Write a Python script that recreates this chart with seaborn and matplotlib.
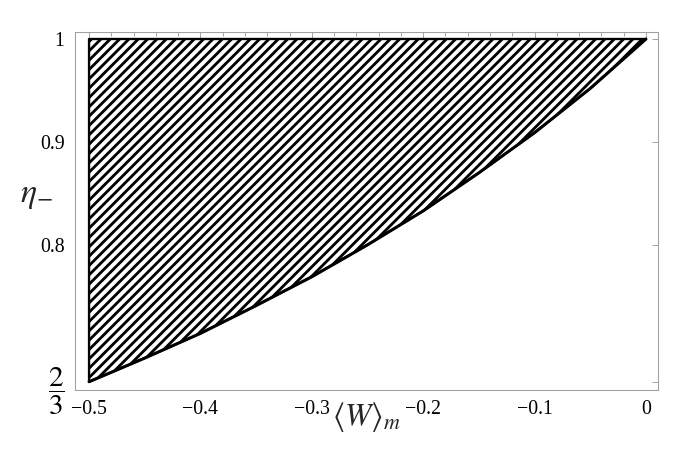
import numpy as np
import matplotlib
matplotlib.use('Agg')
import matplotlib.pyplot as plt
import seaborn as sns
from matplotlib.ticker import MultipleLocator, FixedLocator

# curve: lower edge of the hatched region
w_vals = [-0.5, -0.45, -0.4, -0.35, -0.3, -0.25, -0.2, -0.15, -0.1, -0.05, 0.0]
eta_vals = [0.667, 0.690, 0.714, 0.741, 0.769, 0.800, 0.833, 0.870, 0.909, 0.952, 1.0]
eta_top = 1.0

x_ticks = [-0.5, -0.4, -0.3, -0.2, -0.1, 0.0]
x_labels = ['\u22120.5', '\u22120.4', '\u22120.3', '\u22120.2', '\u22120.1', '0']
y_ticks = [2 / 3, 0.8, 0.9, 1.0]
y_labels = [r'$\dfrac{2}{3}$', '0.8', '0.9', '1']

sns.set_theme(style='white')
plt.rcParams['font.family'] = ['Liberation Serif', 'DejaVu Serif']
plt.rcParams['mathtext.fontset'] = 'stix'
plt.rcParams['hatch.linewidth'] = 2.4
plt.rcParams['hatch.color'] = 'black'

fig = plt.figure(figsize=(685 / 84, 463 / 84), dpi=84)
ax = fig.add_axes([0.1095, 0.1577, 0.9606 - 0.1095, 0.9309 - 0.1577])

# hatched region between curve and eta = 1
ax.fill_between(w_vals, eta_vals, eta_top, facecolor='white',
                edgecolor='black', hatch='///', linewidth=2.0, zorder=2)
sns.lineplot(x=w_vals, y=eta_vals, color='black', linewidth=2.6, ax=ax,
             zorder=3)

ax.set_xlim(-0.5126, 0.0108)
ax.set_ylim(0.659, 1.0068)

ax.xaxis.set_major_locator(FixedLocator(x_ticks))
ax.set_xticklabels(x_labels)
ax.xaxis.set_minor_locator(MultipleLocator(0.02))
ax.yaxis.set_major_locator(FixedLocator(y_ticks))
ax.set_yticklabels(y_labels)

for s in ax.spines.values():
    s.set_color('#a0a0a0')
    s.set_linewidth(0.9)
ax.tick_params(which='both', direction='in', top=True, right=True,
               color='#a0a0a0', width=0.8)
ax.tick_params(which='major', length=5, labelsize=17, pad=9, labelcolor='black')
ax.tick_params(which='minor', length=3)
ax.tick_params(axis='y', which='minor', left=False, right=False)
ax.get_yticklabels()[0].set_fontsize(25)

ax.set_xlabel(r'$\langle W\rangle_m$', fontsize=27)
ax.xaxis.set_label_coords(0.5, -0.028)
ax.set_ylabel(r'$\eta_{-}$', fontsize=29, rotation=0, ha='center', va='center')
ax.yaxis.set_label_coords(-0.067, 0.542)

fig.savefig('out.png', dpi=84)
